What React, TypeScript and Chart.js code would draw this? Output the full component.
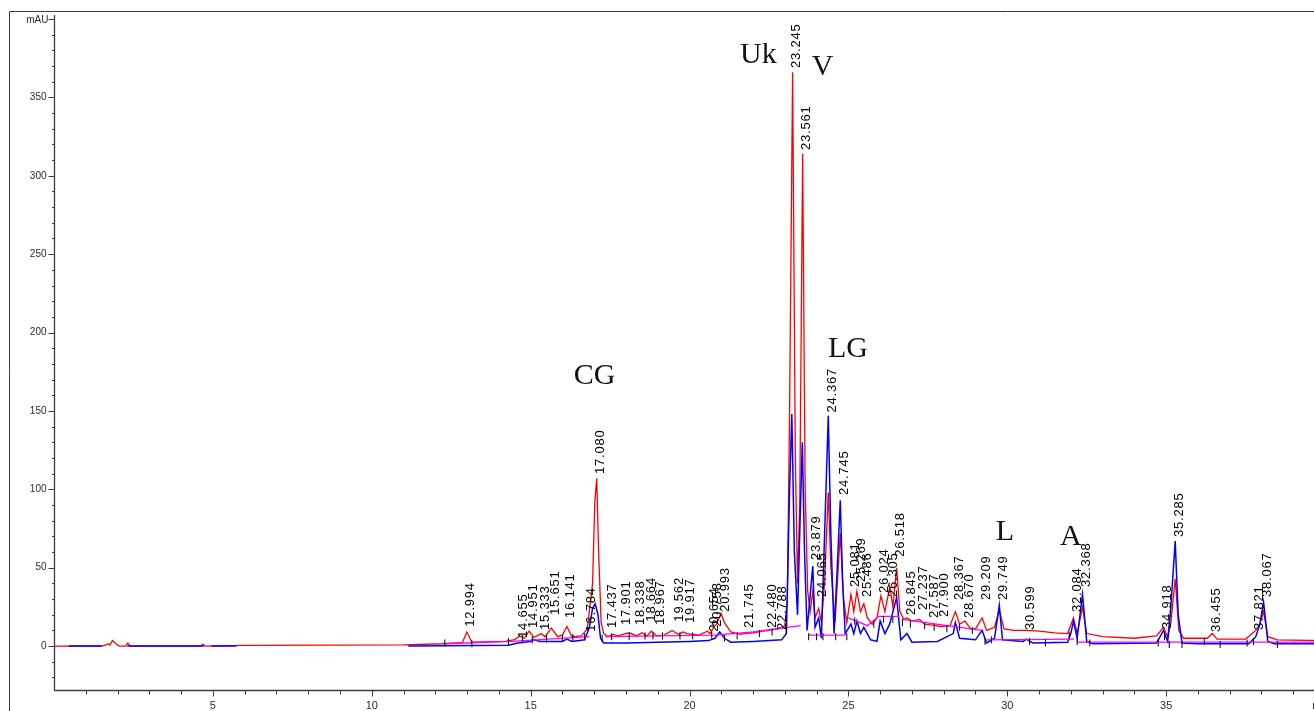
import React, { useEffect, useRef } from "react";
import { Chart, registerables } from "chart.js";

Chart.register(...registerables);

// Red trace (time min, mAU)
const redTrace: [number, number][] = [
  [0, 0], [1.5, 0], [1.62, 0.6], [1.7, 1.5], [1.76, 0.6], [1.84, 3.5], [1.95, 1.5], [2.05, 0],
  [2.25, 0], [2.32, 2], [2.4, 0], [4.6, 0], [4.68, 1.2], [4.76, 0], [6, 0.5], [11, 0.8],
  [12.2, 1.5], [12.85, 2.2], [12.994, 9], [13.15, 2.5], [14.2, 3], [14.5, 4.2], [14.655, 6.5],
  [14.8, 5], [14.951, 9.5], [15.1, 5.5], [15.333, 8], [15.45, 6], [15.651, 11.5], [15.85, 6],
  [16.0, 7], [16.141, 12.5], [16.3, 6], [16.6, 6.5], [16.784, 11], [16.95, 40], [17.02, 92],
  [17.08, 107], [17.14, 60], [17.22, 15], [17.3, 8], [17.437, 6], [17.6, 7.5], [17.75, 6.5],
  [17.901, 7.5], [18.1, 8.5], [18.338, 6.5], [18.5, 8.5], [18.664, 6.5], [18.8, 9.5],
  [18.967, 6.5], [19.2, 7], [19.45, 10], [19.65, 7.5], [19.8, 9], [19.917, 8], [20.3, 7],
  [20.56, 9.5], [20.654, 8], [20.758, 12], [20.85, 14], [20.993, 21], [21.1, 15], [21.3, 9],
  [21.6, 7.5], [21.745, 8], [22.0, 8.5], [22.3, 9.5], [22.48, 10], [22.788, 11], [23.0, 13],
  [23.08, 30], [23.15, 150], [23.245, 366], [23.33, 120], [23.4, 40], [23.47, 90],
  [23.561, 314], [23.64, 100], [23.72, 35], [23.8, 22], [23.879, 35], [23.95, 18],
  [24.065, 24], [24.15, 15], [24.25, 40], [24.367, 98], [24.45, 50], [24.58, 15], [24.745, 72],
  [24.85, 30], [24.95, 15], [25.081, 33], [25.17, 22], [25.269, 35], [25.38, 22], [25.486, 27],
  [25.6, 18], [25.75, 14], [25.9, 18], [26.024, 32], [26.15, 22], [26.305, 38], [26.4, 25],
  [26.518, 50], [26.62, 22], [26.75, 17], [26.845, 18], [27.0, 16], [27.237, 17], [27.4, 14],
  [27.587, 13.5], [27.75, 13], [27.9, 12.5], [28.2, 13], [28.367, 22], [28.5, 14], [28.67, 16],
  [28.85, 11], [29.0, 11], [29.209, 18], [29.35, 10], [29.6, 12], [29.749, 23], [29.9, 11],
  [30.2, 10], [30.6, 10], [31.0, 9.5], [31.5, 8.5], [31.9, 8], [32.084, 18], [32.2, 8],
  [32.368, 25], [32.5, 8], [33.0, 6], [34.0, 5], [34.7, 6.5], [34.918, 12], [35.05, 6],
  [35.15, 15], [35.285, 43], [35.4, 10], [35.55, 5], [36.3, 5], [36.455, 8], [36.6, 4.5],
  [37.5, 4.5], [37.821, 10], [37.95, 14], [38.067, 22], [38.2, 6], [38.5, 4], [40, 3.5],
];

// Blue trace (null = not recorded)
const blueTrace: [number, number | null][] = [
  [0.46, 0], [1.5, 0], [1.9, null], [2.3, 0], [4.72, 0], [4.8, null], [4.95, 0], [5.74, 0],
  [8, null], [11.15, 0], [14.3, 0.5], [14.6, 2], [15.0, 3], [15.1, 4], [15.3, 3], [16.0, 3],
  [16.141, 4.5], [16.3, 3], [16.7, 4], [16.85, 12], [16.95, 24], [17.03, 27], [17.12, 20],
  [17.2, 5], [17.3, 2], [18.0, 2], [19.0, 2.5], [20.0, 3], [20.6, 3.5], [20.8, 5], [20.95, 9],
  [21.1, 5], [21.3, 2.5], [22.0, 3], [22.9, 4], [23.05, 8], [23.15, 100], [23.22, 148],
  [23.3, 60], [23.4, 20], [23.48, 80], [23.55, 130], [23.62, 60], [23.7, 10], [23.879, 51],
  [23.95, 12], [24.065, 18], [24.15, 5], [24.25, 70], [24.367, 147], [24.45, 70], [24.55, 8],
  [24.65, 50], [24.745, 93], [24.82, 40], [24.9, 8], [25.081, 14], [25.17, 8], [25.269, 16],
  [25.38, 8], [25.486, 12], [25.7, 4], [25.9, 3], [26.0, 16], [26.15, 8], [26.3, 14],
  [26.518, 31], [26.65, 4], [26.845, 8], [27.0, 2.5], [27.8, 3], [28.3, 8], [28.367, 15],
  [28.5, 5], [29.0, 4], [29.209, 10], [29.35, 2], [29.6, 5], [29.749, 26], [29.85, 4],
  [30.5, 3], [30.6, 4.5], [30.8, 2], [31.9, 2.5], [32.0, 8], [32.084, 16], [32.2, 5],
  [32.368, 33], [32.5, 3], [32.7, 1.5], [34.7, 2], [34.918, 10], [35.05, 3], [35.15, 25],
  [35.285, 67], [35.38, 20], [35.5, 2], [36.0, 1.5], [37.6, 1.5], [37.821, 6], [37.95, 14],
  [38.067, 28], [38.2, 3], [38.4, 1.5], [40, 1.5],
];

// Magenta integration baseline
const baseTrace: [number, number | null][] = [
  [12.3, 1.5], [14.4, 3], [16.85, 6], [17.1, null], [17.35, 6], [20.8, 7], [22.0, 9],
  [23.5, 13], [23.6, null], [23.75, 7], [24.9, 7], [24.95, null], [25.0, 18], [25.6, 13],
  [25.95, 19], [26.6, 19], [26.65, null], [26.7, 17], [29.2, 10], [29.3, null], [29.35, 4],
  [32.1, 4.5], [32.15, null], [32.2, 2.5], [40, 2.5],
];

// Peak start/end markers
const markTimes = [12.3, 13.15, 14.3, 14.74, 15.05, 15.5, 16.0, 16.33, 16.7, 17.25, 17.55, 18.1,
  18.6, 18.85, 19.15, 19.7, 20.1, 20.7, 21.1, 21.5, 22.2, 22.6, 23.05, 23.75, 24.0, 24.2, 24.6,
  24.95, 25.2, 25.8, 26.1, 26.4, 26.7, 26.95, 27.4, 27.7, 28.1, 28.5, 28.9, 29.3, 29.5, 30.7,
  31.2, 31.95, 32.2, 32.6, 34.75, 34.95, 35.1, 35.5, 36.2, 36.7, 37.55, 37.75, 38.5];
const markValues = [2, 1.5, 3, 5, 4, 4.5, 5, 5.5, 6, 5, 6, 6, 6.5, 6.5, 6.5, 6.5, 6.5, 7, 5, 6.5,
  8, 9, 10, 6, 6, 6, 6, 6, 16, 14, 17, 17, 15, 14, 13, 12, 11, 12, 10, 3, 4, 3, 2, 7, 3, 2, 2,
  6, 1, 1, 3, 1, 2, 3, 1];

// Retention-time labels and the height where each label starts
const peakTimes = [12.994, 14.655, 14.951, 15.333, 15.651, 16.141, 16.784, 17.08, 17.437, 17.901,
  18.338, 18.664, 18.967, 19.562, 19.917, 20.654, 20.758, 20.993, 21.745, 22.48, 22.788, 23.245,
  23.561, 23.879, 24.065, 24.367, 24.745, 25.081, 25.269, 25.486, 26.024, 26.305, 26.518, 26.845,
  27.237, 27.587, 27.9, 28.367, 28.67, 29.209, 29.749, 30.599, 32.084, 32.368, 34.918, 35.285,
  36.455, 37.821, 38.067];
const peakLabelBase = [12.4, 5.2, 11.5, 10.3, 19.8, 17.9, 9.2, 109.8, 11.5, 13.4, 13.4, 15.6, 13.4,
  15.6, 14.7, 9.2, 12.4, 21.9, 11.5, 11.5, 10.3, 368.7, 316.4, 54.9, 31.3, 149, 96.4, 37.7, 40.9,
  31.3, 33.9, 31.3, 57, 19.8, 23, 17.9, 18.6, 29.4, 17.9, 29.4, 29.4, 10.3, 21.8, 37.7, 10.9,
  69.6, 9, 10.3, 31.3];

// Compound annotations
const noteTexts = ["CG", "Uk", "V", "LG", "L", "A"];
const noteTimes = [16.36, 21.59, 23.85, 24.36, 29.64, 31.66];
const noteValues = [167.2, 371.9, 364.3, 184.4, 67.7, 64.5];

const xLabelTicks = [5, 10, 15, 20, 25, 30, 35];
const yLabelTicks = [0, 50, 100, 150, 200, 250, 300, 350];

const toXY = (arr: [number, number | null][]) => arr.map(([x, y]) => ({ x, y }));

const decorPlugin = {
  id: "decor",
  beforeDatasetsDraw(chart: any) {
    const { ctx, chartArea: a, scales } = chart;
    const x = scales.x, y = scales.y;
    const W = chart.width, H = chart.height;
    ctx.save();
    ctx.strokeStyle = "#3c3c3c";
    ctx.lineWidth = 1;
    // outer frame
    ctx.beginPath();
    ctx.moveTo(9.5, H);
    ctx.lineTo(9.5, 11.5);
    ctx.lineTo(W, 11.5);
    ctx.stroke();
    // axes
    const x0 = Math.round(a.left) + 0.5;
    const yb = Math.round(a.bottom) + 0.5;
    ctx.lineWidth = 1.3;
    ctx.beginPath();
    ctx.moveTo(x0, a.top - 4);
    ctx.lineTo(x0, yb);
    ctx.lineTo(W, yb);
    ctx.stroke();
    ctx.lineWidth = 1;
    // y ticks
    ctx.beginPath();
    for (let v = -20; v <= 400; v += 10) {
      const py = Math.round(y.getPixelForValue(v)) + 0.5;
      const len = v % 50 === 0 ? 6 : 2.5;
      ctx.moveTo(x0 - len, py);
      ctx.lineTo(x0, py);
    }
    // x ticks
    for (let t = 1; t <= 40; t += 1) {
      const px = Math.round(x.getPixelForValue(t)) + 0.5;
      const len = t % 5 === 0 ? 6 : 4;
      ctx.moveTo(px, yb);
      ctx.lineTo(px, yb + len);
    }
    ctx.stroke();
    // y labels
    ctx.fillStyle = "#2a2a3a";
    ctx.font = '10px "Liberation Sans", Arial, sans-serif';
    ctx.textAlign = "right";
    ctx.textBaseline = "middle";
    yLabelTicks.forEach((v) => ctx.fillText(String(v), x0 - 8, y.getPixelForValue(v)));
    ctx.fillText("mAU", x0 - 6, y.getPixelForValue(400) + 1);
    // x labels
    ctx.font = '11px "Liberation Sans", Arial, sans-serif';
    ctx.textAlign = "center";
    ctx.textBaseline = "top";
    xLabelTicks.forEach((t) => ctx.fillText(String(t), x.getPixelForValue(t), yb + 10));
    ctx.textAlign = "left";
    ctx.fillText("min", x.getPixelForValue(39.6), yb + 10);
    ctx.restore();
  },
  afterDatasetsDraw(chart: any) {
    const { ctx, scales } = chart;
    const x = scales.x, y = scales.y;
    ctx.save();
    ctx.fillStyle = "#000";
    ctx.font = '13px "Liberation Sans", Arial, sans-serif';
    try { (ctx as any).letterSpacing = "0.8px"; } catch (e) {}
    ctx.textAlign = "left";
    ctx.textBaseline = "middle";
    peakTimes.forEach((t, i) => {
      const px = x.getPixelForValue(t) + 4;
      const py = y.getPixelForValue(peakLabelBase[i]);
      ctx.save();
      ctx.translate(px, py);
      ctx.rotate(-Math.PI / 2);
      ctx.fillText(t.toFixed(3), 0, 0);
      ctx.restore();
    });
    try { (ctx as any).letterSpacing = "0px"; } catch (e) {}
    ctx.font = '30px "Liberation Serif", "Times New Roman", serif';
    ctx.fillStyle = "#111";
    ctx.textBaseline = "alphabetic";
    noteTexts.forEach((s, i) => {
      ctx.fillText(s, x.getPixelForValue(noteTimes[i]), y.getPixelForValue(noteValues[i]));
    });
    ctx.restore();
  },
};

export default function App() {
  const ref = useRef<HTMLCanvasElement | null>(null);
  useEffect(() => {
    if (!ref.current) return;
    const chart = new Chart(ref.current, {
      type: "scatter",
      data: {
        datasets: [
          {
            label: "marks",
            data: markTimes.map((t, i) => ({ x: t, y: markValues[i] })),
            showLine: false,
            pointStyle: "line",
            rotation: 90,
            pointRadius: 3.5,
            borderColor: "#000",
            borderWidth: 1,
            order: 0,
          } as any,
          {
            label: "baseline",
            data: toXY(baseTrace),
            showLine: true,
            pointRadius: 0,
            borderColor: "#ff00ff",
            borderWidth: 1.3,
            spanGaps: false,
            order: 1,
          },
          {
            label: "blue",
            data: toXY(blueTrace),
            showLine: true,
            pointRadius: 0,
            borderColor: "#0000ff",
            borderWidth: 1.5,
            spanGaps: false,
            order: 2,
          },
          {
            label: "red",
            data: toXY(redTrace),
            showLine: true,
            pointRadius: 0,
            borderColor: "#ff0000",
            borderWidth: 1.3,
            order: 3,
          },
        ],
      },
      options: {
        responsive: false,
        animation: false,
        events: [],
        layout: { padding: { left: 54, top: 19, right: 15, bottom: 40 } },
        plugins: { legend: { display: false }, tooltip: { enabled: false } },
        scales: {
          x: { type: "linear", min: 0, max: 40, display: false },
          y: { type: "linear", min: -28, max: 400, display: false },
        },
      },
      plugins: [decorPlugin],
    });
    return () => chart.destroy();
  }, []);
  return (
    <div style={{ position: "absolute", left: 0, top: 0, width: 1314, height: 711, overflow: "hidden", background: "#fff" }}>
      <canvas ref={ref} width={1340} height={730} style={{ display: "block" }} />
    </div>
  );
}
